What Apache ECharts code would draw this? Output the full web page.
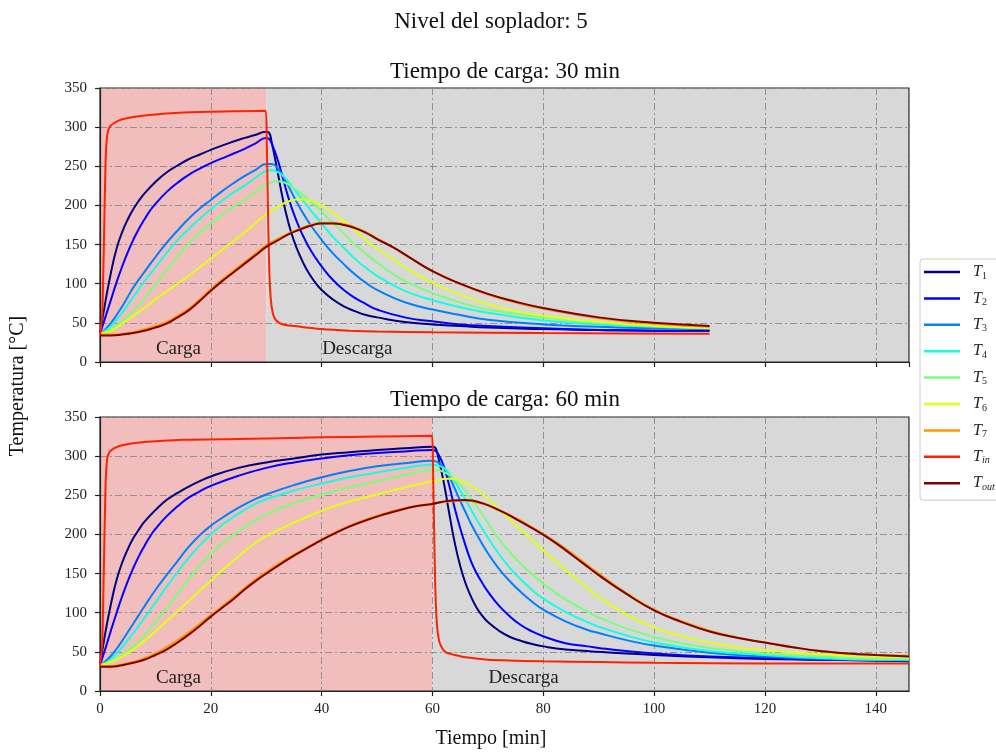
<!DOCTYPE html>
<html>
<head>
<meta charset="utf-8">
<script src="https://cdn.jsdelivr.net/npm/echarts@6/dist/echarts.min.js"></script>
<style>html,body{margin:0;padding:0;background:#fff}#c{width:996px;height:753px}</style>
</head>
<body>
<div id="c"></div>
<script>
// ---- data: [time (min), temperature (°C)] ----
const seriesNames = ['T1','T2','T3','T4','T5','T6','T7','Tin','Tout'];
const chargeTimes = [30, 60];

// Tiempo de carga: 30 min
const c30_T1 = [[0,36],[1,78],[2,115],[3,145],[4,166],[5,182],[6,195],[7,206],[8,215],[10,230],[12,242],[14,251],[16,259],[18,265],[20,271],[23,279],[26,286],[28,290],[30,294],[30.5,293],[31,280],[32,245],[33,208],[34,178],[35,155],[36,137],[37,122],[38,110],[39,100],[40,92],[42,80],[44,71],[46,65],[48,60],[50,57],[55,51],[60,48],[65,46],[70,44],[80,42],[90,41],[100,40],[110,40]];
const c30_T2 = [[0,36],[1,58],[2,80],[3,102],[4,122],[5,140],[6,156],[7,170],[8,182],[9,193],[10,202],[12,217],[14,229],[16,239],[18,247],[20,254],[23,263],[26,272],[28,279],[30,286],[30.5,285],[31,279],[32,260],[33,235],[34,210],[35,189],[36,171],[37,156],[38,143],[39,132],[40,122],[42,105],[44,92],[46,82],[48,74],[50,67],[55,57],[60,52],[65,48],[70,46],[80,43],[90,41],[100,40],[110,40]];
const c30_T3 = [[0,36],[1,42],[2,50],[3,60],[4,71],[5,83],[6,95],[8,115],[10,134],[12,152],[14,168],[16,183],[18,196],[20,207],[22,218],[24,228],[26,237],[28,245],[30,253],[31,253],[32,248],[33,238],[34,225],[35,211],[36,198],[37,186],[38,175],[40,156],[42,139],[44,125],[46,112],[48,101],[50,92],[53,82],[56,74],[60,67],[65,60],[70,54],[80,48],[90,45],[100,43],[110,42]];
const c30_T4 = [[0,36],[1,40],[2,46],[3,54],[4,63],[5,73],[6,83],[8,103],[10,121],[12,139],[14,156],[16,170],[18,183],[20,195],[22,206],[24,216],[26,225],[28,235],[30,244],[31,245],[32,243],[33,238],[34,230],[35,221],[36,212],[37,203],[38,194],[40,177],[42,160],[44,146],[46,132],[48,120],[50,110],[53,98],[56,88],[60,79],[65,70],[70,63],[80,53],[90,48],[100,45],[110,43]];
const c30_T5 = [[0,36],[2,42],[4,52],[6,65],[8,81],[10,99],[12,117],[14,135],[16,151],[18,165],[20,177],[22,188],[24,198],[26,207],[28,217],[30,227],[31,230],[32,231],[33,230],[34,227],[35,222],[36,217],[38,205],[40,192],[42,178],[44,164],[46,150],[48,138],[50,127],[53,112],[56,100],[60,88],[65,76],[70,67],[80,57],[90,50],[100,46],[110,44]];
const c30_T6 = [[0,36],[2,40],[4,49],[6,59],[8,69],[10,80],[12,90],[14,100],[16,110],[18,121],[20,132],[22,143],[24,154],[26,165],[28,177],[30,189],[32,198],[34,205],[36,208],[38,206],[40,200],[42,191],[44,180],[46,168],[48,156],[50,145],[53,131],[56,117],[60,101],[65,86],[70,74],[75,65],[80,59],[90,51],[100,46],[110,43]];
const c30_T7 = [[0,35],[2,35],[4,36],[6,38],[8,42],[10,46],[12,51],[14,59],[16,68],[18,80],[20,93],[22,105],[24,116],[26,127],[28,138],[30,149],[32,157],[34,164],[36,170],[38,175],[40,178],[42,178],[44,176],[46,172],[48,166],[50,158],[53,146],[56,133],[60,116],[65,100],[70,86],[75,76],[80,68],[90,56],[100,49],[110,45]];
const c30_Tin = [[0,35],[0.4,60],[0.7,150],[1.0,255],[1.3,290],[1.7,300],[2.5,305],[4,310],[8,315],[16,319],[29.9,321],[30.1,280],[30.3,200],[30.5,130],[30.8,82],[31.2,62],[31.8,53],[33,48],[35,46],[40,42],[45,40],[50,39],[60,38],[80,37],[110,36]];
const c30_Tout = [[0,34],[2,34],[4,35],[6,37],[8,40],[10,44],[12,49],[14,57],[16,66],[18,78],[20,91],[22,103],[24,114],[26,125],[28,136],[30,147],[32,155],[34,163],[36,169],[38,174],[40,177],[42,177],[44,175],[46,171],[48,165],[50,157],[53,146],[56,133],[60,116],[65,100],[70,87],[75,77],[80,69],[90,57],[100,50],[110,46]];

// Tiempo de carga: 60 min
const c60_T1 = [[0,33],[1,76],[2,112],[3,142],[4,164],[5,181],[6,195],[7,206],[8,216],[10,231],[12,244],[14,253],[16,261],[18,268],[20,274],[25,285],[30,292],[35,297],[40,302],[45,305],[50,308],[55,310],[60,312],[60.5,311],[61,300],[62,268],[63,228],[64,190],[65,160],[66,137],[67,120],[68,106],[69,96],[70,88],[72,77],[74,69],[76,64],[78,60],[80,57],[84,53],[88,51],[90,50],[95,48],[100,46],[110,43],[120,41],[130,40],[140,39],[146,38]];
const c60_T2 = [[0,33],[1,55],[2,78],[3,100],[4,121],[5,140],[6,157],[7,172],[8,185],[9,197],[10,207],[12,223],[14,236],[16,247],[18,255],[20,262],[25,275],[30,285],[35,292],[40,297],[45,301],[50,304],[55,306],[60,308],[60.5,307],[61,303],[62,288],[63,263],[64,234],[65,208],[66,185],[67,165],[68,150],[69,138],[70,127],[72,109],[74,95],[76,84],[78,76],[80,70],[84,61],[88,57],[90,55],[95,51],[100,48],[110,44],[120,42],[130,40],[140,39],[146,39]];
const c60_T3 = [[0,33],[1,38],[2,45],[3,54],[4,64],[5,75],[6,86],[8,108],[10,129],[12,148],[14,166],[16,184],[18,199],[20,211],[22,221],[24,230],[26,238],[28,245],[30,251],[35,263],[40,273],[45,281],[50,287],[55,291],[60,294],[61,292],[62,286],[63,274],[64,259],[65,243],[66,228],[67,213],[68,200],[70,176],[72,156],[74,140],[76,126],[78,114],[80,104],[84,89],[88,78],[90,74],[95,65],[100,58],[110,49],[120,44],[130,41],[140,40],[146,39]];
const c60_T4 = [[0,33],[1,36],[2,41],[3,48],[4,56],[5,65],[6,74],[8,93],[10,113],[12,133],[14,152],[16,170],[18,186],[20,200],[22,212],[24,222],[26,231],[28,239],[30,245],[35,256],[40,265],[45,273],[50,279],[55,285],[60,289],[61,288],[62,285],[63,278],[64,268],[65,256],[66,244],[67,231],[68,219],[70,196],[72,175],[74,157],[76,142],[78,129],[80,118],[84,101],[88,88],[90,82],[95,71],[100,62],[110,51],[120,46],[130,42],[140,40],[146,40]];
const c60_T5 = [[0,33],[2,38],[4,46],[6,57],[8,71],[10,88],[12,106],[14,124],[16,143],[18,160],[20,175],[22,188],[24,199],[26,209],[28,218],[30,226],[35,240],[40,251],[45,260],[50,268],[55,276],[60,282],[61,282],[62,280],[63,276],[64,270],[65,263],[66,255],[67,246],[68,236],[70,215],[72,194],[74,177],[76,162],[78,149],[80,137],[84,117],[88,101],[90,94],[95,80],[100,69],[105,61],[110,55],[120,48],[130,44],[140,41],[146,41]];
const c60_T6 = [[0,33],[2,37],[4,44],[6,53],[8,64],[10,76],[12,89],[14,102],[16,115],[18,128],[20,141],[22,154],[24,166],[26,178],[28,189],[30,198],[35,215],[40,230],[45,242],[50,251],[55,260],[60,268],[63,271],[66,266],[69,252],[72,232],[75,212],[78,193],[81,173],[84,155],[87,137],[90,120],[95,98],[100,81],[105,70],[110,62],[115,56],[120,52],[130,47],[140,44],[146,43]];
const c60_T7 = [[0,32],[2,32],[4,34],[6,37],[8,42],[10,48],[12,56],[14,65],[16,75],[18,86],[20,97],[22,108],[24,119],[26,131],[28,142],[30,152],[33,166],[36,178],[39,190],[42,201],[45,211],[48,219],[51,226],[54,232],[57,236],[60,239],[63,242],[66,243],[69,239],[72,231],[75,221],[78,209],[81,196],[84,182],[87,166],[90,150],[95,125],[100,104],[105,89],[110,77],[115,68],[120,62],[125,56],[130,51],[135,48],[140,46],[146,45]];
const c60_Tin = [[0,33],[0.4,60],[0.7,160],[1.0,262],[1.3,297],[1.7,305],[2.5,310],[4,314],[8,318],[15,321],[25,322],[40,324],[50,325],[59.9,326],[60.1,285],[60.3,205],[60.5,135],[60.8,85],[61.2,64],[61.8,54],[62.5,49],[64,46],[66,43],[70,40],[80,38],[90,37],[100,36],[120,35],[146,35]];
const c60_Tout = [[0,31],[2,31],[4,33],[6,36],[8,40],[10,46],[12,53],[14,62],[16,72],[18,83],[20,95],[22,106],[24,117],[26,129],[28,140],[30,150],[33,164],[36,177],[39,189],[42,200],[45,210],[48,218],[51,225],[54,231],[57,236],[60,239],[63,243],[66,244],[69,240],[72,231],[75,220],[78,208],[81,195],[84,180],[87,164],[90,148],[95,124],[100,103],[105,88],[110,76],[115,68],[120,62],[125,56],[130,51],[135,48],[140,46],[146,44]];

const panel30 = [c30_T1,c30_T2,c30_T3,c30_T4,c30_T5,c30_T6,c30_T7,c30_Tin,c30_Tout];
const panel60 = [c60_T1,c60_T2,c60_T3,c60_T4,c60_T5,c60_T6,c60_T7,c60_Tin,c60_Tout];

// ---- styling ----
const colors = ['#000080','#0000ff','#0080ff','#14ffe2','#7bff7b','#e2ff14','#ff9700','#ff2100','#800000'];
const FONT = '"Liberation Serif", "Times New Roman", serif';
const chart = echarts.init(document.getElementById('c'), null, {renderer:'canvas'});

const grids = [
  {left:100, top:88, width:809, height:274},
  {left:100, top:417, width:809, height:274}
];
const gridOpts = grids.map(g => Object.assign({show:true, borderColor:'#222', borderWidth:1.2, backgroundColor:'transparent', z:1.5}, g));

const splitStyle = {show:true, lineStyle:{color:'#8a8a8a', width:0.9, type:[7,3,2,3]}};
const xAxes = [0,1].map(i => ({
  gridIndex:i, type:'value', min:0, max:146, interval:20, z:1.5,
  axisLine:{show:true, lineStyle:{color:'#222', width:1.2}},
  axisTick:{show:true, length:5, lineStyle:{color:'#222', width:1.2}},
  axisLabel:{show:i===1, fontFamily:FONT, fontSize:15, color:'#222', margin:11, showMaxLabel:false},
  splitLine:splitStyle
}));
const yAxes = [0,1].map(i => ({
  gridIndex:i, type:'value', min:0, max:350, interval:50, z:1.5,
  axisLine:{show:true, lineStyle:{color:'#222', width:1.2}},
  axisTick:{show:true, length:5, lineStyle:{color:'#222', width:1.2}},
  axisLabel:{fontFamily:FONT, fontSize:15, color:'#222', margin:13},
  splitLine:splitStyle
}));

const series = [];
[panel30, panel60].forEach((panel, gi) => {
  const tc = chargeTimes[gi];
  // background regions (below grid lines)
  series.push({
    type:'line', xAxisIndex:gi, yAxisIndex:gi, data:[[0,-100]], symbol:'none', z:0, silent:true,
    lineStyle:{width:0},
    markArea:{silent:true, z:0, data:[
      [{xAxis:0, itemStyle:{color:'#f2bdbd'}},{xAxis:tc}],
      [{xAxis:tc, itemStyle:{color:'#d8d8d8'}},{xAxis:146}]
    ]}
  });
  panel.forEach((d, si) => {
    series.push({
      name:seriesNames[si], type:'line', xAxisIndex:gi, yAxisIndex:gi, data:d,
      showSymbol:false, symbol:'none', smooth: seriesNames[si]==='Tin' ? 0.2 : 0.5,
      lineStyle:{color:colors[si], width:2}, itemStyle:{color:colors[si]},
      z:2+si, animation:false
    });
  });
  // phase labels
  series.push({
    type:'scatter', xAxisIndex:gi, yAxisIndex:gi, data:[], z:20, silent:true,
    markPoint:{symbol:'circle', symbolSize:1, itemStyle:{color:'rgba(0,0,0,0)'},
      label:{show:true, position:'right', distance:0, fontFamily:FONT, fontSize:19, color:'#222'},
      data:[
        {coord:[10,17], label:{formatter:'Carga'}},
        {coord:[tc+10,17], label:{formatter:'Descarga'}}
      ]}
  });
});

const sub = n => n.slice(1);
chart.setOption({
  animation:false,
  backgroundColor:'#fff',
  grid:gridOpts,
  xAxis:xAxes,
  yAxis:yAxes,
  legend:{
    data:seriesNames, orient:'vertical', left:920, top:259,
    icon:'rect', itemWidth:36, itemHeight:2.5, itemGap:9.4,
    padding:[5,30,8,4], borderColor:'#cccccc', borderWidth:1, borderRadius:3, backgroundColor:'#fff',
    selectedMode:false,
    formatter: n => { const s = sub(n); return '{a|T}{' + (/^\d+$/.test(s) ? 'b' : 'c') + '|' + s + '}'; },
    textStyle:{rich:{
      a:{fontFamily:FONT, fontStyle:'italic', fontSize:16, lineHeight:18, color:'#222', padding:[0,0,0,8]},
      b:{fontFamily:FONT, fontSize:10, lineHeight:6, color:'#222', verticalAlign:'bottom'},
      c:{fontFamily:FONT, fontStyle:'italic', fontSize:10, lineHeight:6, color:'#222', verticalAlign:'bottom'}
    }}
  },
  graphic:[
    {type:'text', x:491, y:22, style:{text:'Nivel del soplador: 5', font:'23px ' + FONT, fill:'#111', align:'center', verticalAlign:'middle'}},
    {type:'text', x:505, y:72, style:{text:'Tiempo de carga: 30 min', font:'23px ' + FONT, fill:'#111', align:'center', verticalAlign:'middle'}},
    {type:'text', x:505, y:400, style:{text:'Tiempo de carga: 60 min', font:'23px ' + FONT, fill:'#111', align:'center', verticalAlign:'middle'}},
    {type:'text', x:491, y:739, style:{text:'Tiempo [min]', font:'20px ' + FONT, fill:'#111', align:'center', verticalAlign:'middle'}},
    {type:'text', x:18, y:386, rotation:Math.PI/2, style:{text:'Temperatura [°C]', font:'20px ' + FONT, fill:'#111', align:'center', verticalAlign:'middle'}}
  ],
  series:series
});
</script>
</body>
</html>
